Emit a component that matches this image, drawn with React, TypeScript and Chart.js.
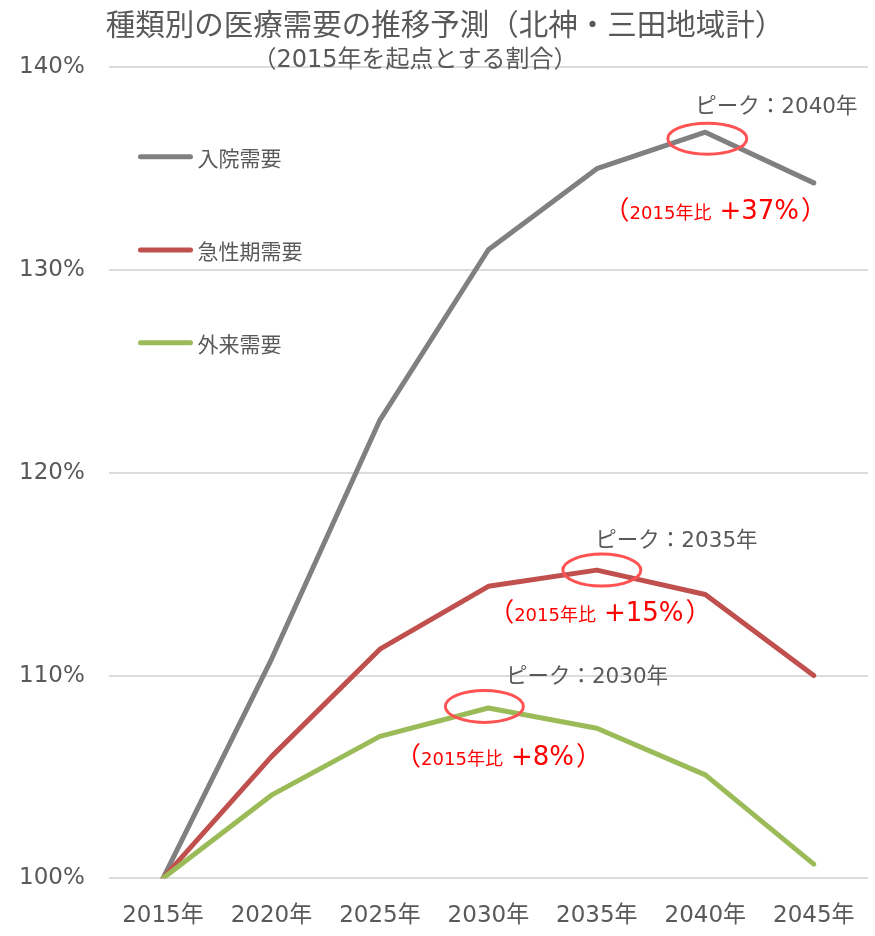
import { useEffect, useRef } from "react";
import { Chart, registerables } from "chart.js";

Chart.register(...registerables);

// ---- data -------------------------------------------------------------
const years = ["2015年", "2020年", "2025年", "2030年", "2035年", "2040年", "2045年"];
const seriesNames = ["入院需要", "急性期需要", "外来需要"];
const inpatient = [100, 110.8, 122.6, 131.0, 135.0, 136.8, 134.3];
const acute = [100, 106.0, 111.3, 114.4, 115.2, 114.0, 110.0];
const outpatient = [100, 104.1, 107.0, 108.4, 107.4, 105.1, 100.7];
const yMin = 100;
const yMax = 140;
const yStep = 10;
const titleText = "種類別の医療需要の推移予測（北神・三田地域計）";
const subtitleText = "（2015年を起点とする割合）";

// ---- style ------------------------------------------------------------
const W = 875;
const H = 936;
const LATIN = '"DejaVu Sans", "Noto Sans CJK JP", sans-serif';
const CJK = '"Noto Sans CJK JP", "DejaVu Sans", sans-serif';
const TEXT = "#595959";
const colors = ["#808080", "#C0504D", "#9BBB59"];
const legendY = [156.7, 250, 342.7];

// placement of the peak callouts relative to each series' peak point
const callouts = [
  { label: [-10, -19.5], ring: [2, 6.5, 39.5, 15.5], note: [-75.7, 87.3] },
  { label: [-1.5, -23.3], ring: [5, 0, 39, 16], note: [-82.7, 50.7] },
  { label: [17.5, -25], ring: [-4, -1.6, 39, 16], note: [-67.3, 56.7] },
];

const headerPlugin = {
  id: "header",
  afterDraw(chart: any) {
    const ctx = chart.ctx;
    ctx.save();
    ctx.fillStyle = TEXT;
    ctx.textAlign = "center";
    ctx.textBaseline = "middle";
    ctx.font = `29.5px ${CJK}`;
    ctx.fillText(titleText, 445, 23.5);
    ctx.font = `24px ${LATIN}`;
    ctx.fillText(subtitleText, 415, 61);
    ctx.restore();
  },
};

const legendPlugin = {
  id: "sideLegend",
  afterDatasetsDraw(chart: any) {
    const ctx = chart.ctx;
    ctx.save();
    chart.data.datasets.forEach((ds: any, i: number) => {
      const y = legendY[i];
      ctx.strokeStyle = ds.borderColor;
      ctx.lineWidth = 5;
      ctx.lineCap = "round";
      ctx.beginPath();
      ctx.moveTo(140.5, y);
      ctx.lineTo(190.5, y);
      ctx.stroke();
      ctx.fillStyle = TEXT;
      ctx.font = `21px ${CJK}`;
      ctx.textAlign = "left";
      ctx.textBaseline = "middle";
      ctx.fillText(ds.label, 197.5, y + 1);
    });
    ctx.restore();
  },
};

const peakPlugin = {
  id: "peaks",
  afterDatasetsDraw(chart: any) {
    const ctx = chart.ctx;
    ctx.save();
    chart.data.datasets.forEach((ds: any, i: number) => {
      const data: number[] = ds.data;
      let k = 0;
      data.forEach((v, j) => {
        if (v > data[k]) k = j;
      });
      const pt = chart.getDatasetMeta(i).data[k];
      const px = pt.x;
      const py = pt.y;
      const c = callouts[i];

      // ring around the peak
      ctx.strokeStyle = "#FF5353";
      ctx.lineWidth = 3;
      ctx.beginPath();
      ctx.ellipse(px + c.ring[0], py + c.ring[1], c.ring[2], c.ring[3], 0, 0, Math.PI * 2);
      ctx.stroke();

      // peak year
      ctx.fillStyle = TEXT;
      ctx.textAlign = "left";
      ctx.textBaseline = "alphabetic";
      ctx.font = `21.5px ${LATIN}`;
      ctx.fillText(`ピーク：${years[k]}`, px + c.label[0], py + c.label[1]);

      // change against the base year
      const pct = Math.round(data[k] - data[0]);
      let x = px + c.note[0];
      const by = py + c.note[1];
      ctx.fillStyle = "#FF0000";
      ctx.font = `26px ${CJK}`;
      ctx.textAlign = "right";
      ctx.fillText("（", x, by);
      ctx.textAlign = "left";
      ctx.font = `18px ${LATIN}`;
      const base = `${years[0]}比`;
      ctx.fillText(base, x, by);
      x += ctx.measureText(base).width + 8;
      ctx.font = `26px ${LATIN}`;
      const val = `+${pct}%`;
      ctx.fillText(val, x, by);
      x += ctx.measureText(val).width + 2;
      ctx.font = `26px ${CJK}`;
      ctx.fillText("）", x, by);
    });
    ctx.restore();
  },
};

export default function App() {
  const ref = useRef<HTMLCanvasElement | null>(null);

  useEffect(() => {
    if (!ref.current) return;
    const series = [inpatient, acute, outpatient];
    const chart = new Chart(ref.current, {
      type: "line",
      data: {
        labels: years,
        datasets: series.map((d, i) => ({
          label: seriesNames[i],
          data: d,
          borderColor: colors[i],
          backgroundColor: colors[i],
          borderWidth: 5,
          borderCapStyle: "round",
          borderJoinStyle: "round",
          pointRadius: 0,
          tension: 0,
          order: 3 - i,
        })),
      },
      options: {
        responsive: false,
        animation: false,
        devicePixelRatio: 1,
        layout: { padding: { left: 0, right: 7, top: 67.3, bottom: 0 } },
        plugins: {
          legend: { display: false },
          tooltip: { enabled: false },
          title: { display: false },
        },
        scales: {
          x: {
            offset: true,
            grid: { display: false, drawTicks: false },
            border: { display: false },
            ticks: {
              color: TEXT,
              font: { family: LATIN, size: 23 },
              padding: 24,
              maxRotation: 0,
            },
            afterFit(scale: any) {
              scale.height = 57.7;
              scale.paddingLeft = 0;
              scale.paddingRight = 0;
            },
          },
          y: {
            min: yMin,
            max: yMax,
            grid: { color: "#DCDCDC", lineWidth: 2, drawTicks: false },
            border: { display: false },
            ticks: {
              stepSize: yStep,
              color: TEXT,
              font: { family: LATIN, size: 23 },
              padding: 24,
              callback: (v: any) => `${v}%`,
            },
            afterFit(scale: any) {
              scale.width = 108.75;
            },
          },
        },
      },
      plugins: [headerPlugin, legendPlugin, peakPlugin],
    } as any);
    return () => chart.destroy();
  }, []);

  return (
    <div style={{ position: "fixed", left: 0, top: 0, width: W, height: H, background: "#fff" }}>
      <canvas ref={ref} width={W} height={H} style={{ display: "block" }} />
    </div>
  );
}
